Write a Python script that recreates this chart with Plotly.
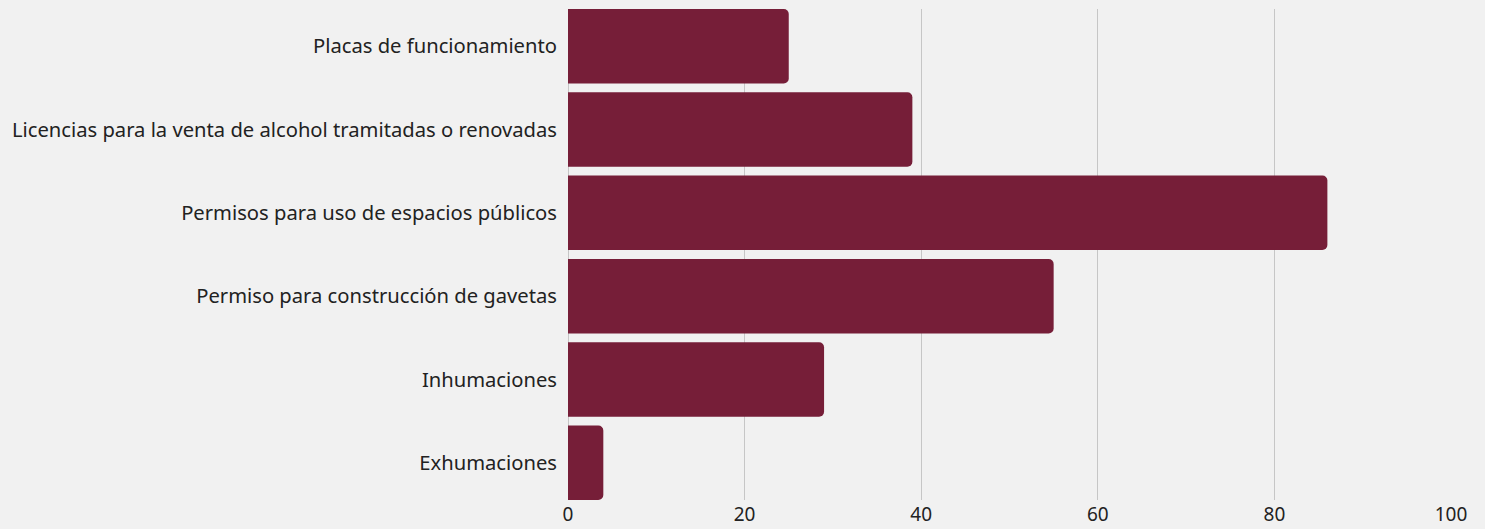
import plotly.graph_objects as go

categorias = [
    "Placas de funcionamiento",
    "Licencias para la venta de alcohol tramitadas o renovadas",
    "Permisos para uso de espacios públicos",
    "Permiso para construcción de gavetas",
    "Inhumaciones",
    "Exhumaciones",
]
valores = [25, 39, 86, 55, 29, 4]
ticks_x = [0, 20, 40, 60, 80, 100]

COLOR_BARRA = "#761E38"
FONDO = "#f1f1f1"

fig = go.Figure(
    go.Bar(
        x=valores,
        y=categorias,
        orientation="h",
        marker=dict(color=COLOR_BARRA, cornerradius=5, line=dict(width=0)),
        width=0.894,
        hoverinfo="x+y",
    )
)

fig.update_layout(
    width=1485,
    height=529,
    margin=dict(l=568, r=34, t=9, b=29),
    paper_bgcolor=FONDO,
    plot_bgcolor=FONDO,
    showlegend=False,
    font=dict(family="Noto Sans", color="#222222"),
)

fig.update_xaxes(
    range=[0, 100],
    tickvals=ticks_x,
    ticktext=[str(v) for v in ticks_x],
    showgrid=True,
    gridcolor="#c6c6c6",
    gridwidth=1,
    zeroline=True,
    zerolinecolor="#c6c6c6",
    zerolinewidth=1,
    showline=False,
    tickfont=dict(size=19, color="#222222"),
    ticks="",
    ticklabelstandoff=1,
    automargin=False,
)

fig.update_yaxes(
    autorange=False,
    range=[5.447, -0.447],
    showgrid=False,
    zeroline=False,
    showline=False,
    ticks="",
    ticklabelstandoff=10,
    tickfont=dict(size=20.2, color="#222222"),
    automargin=False,
)

fig.write_html("out.html")
